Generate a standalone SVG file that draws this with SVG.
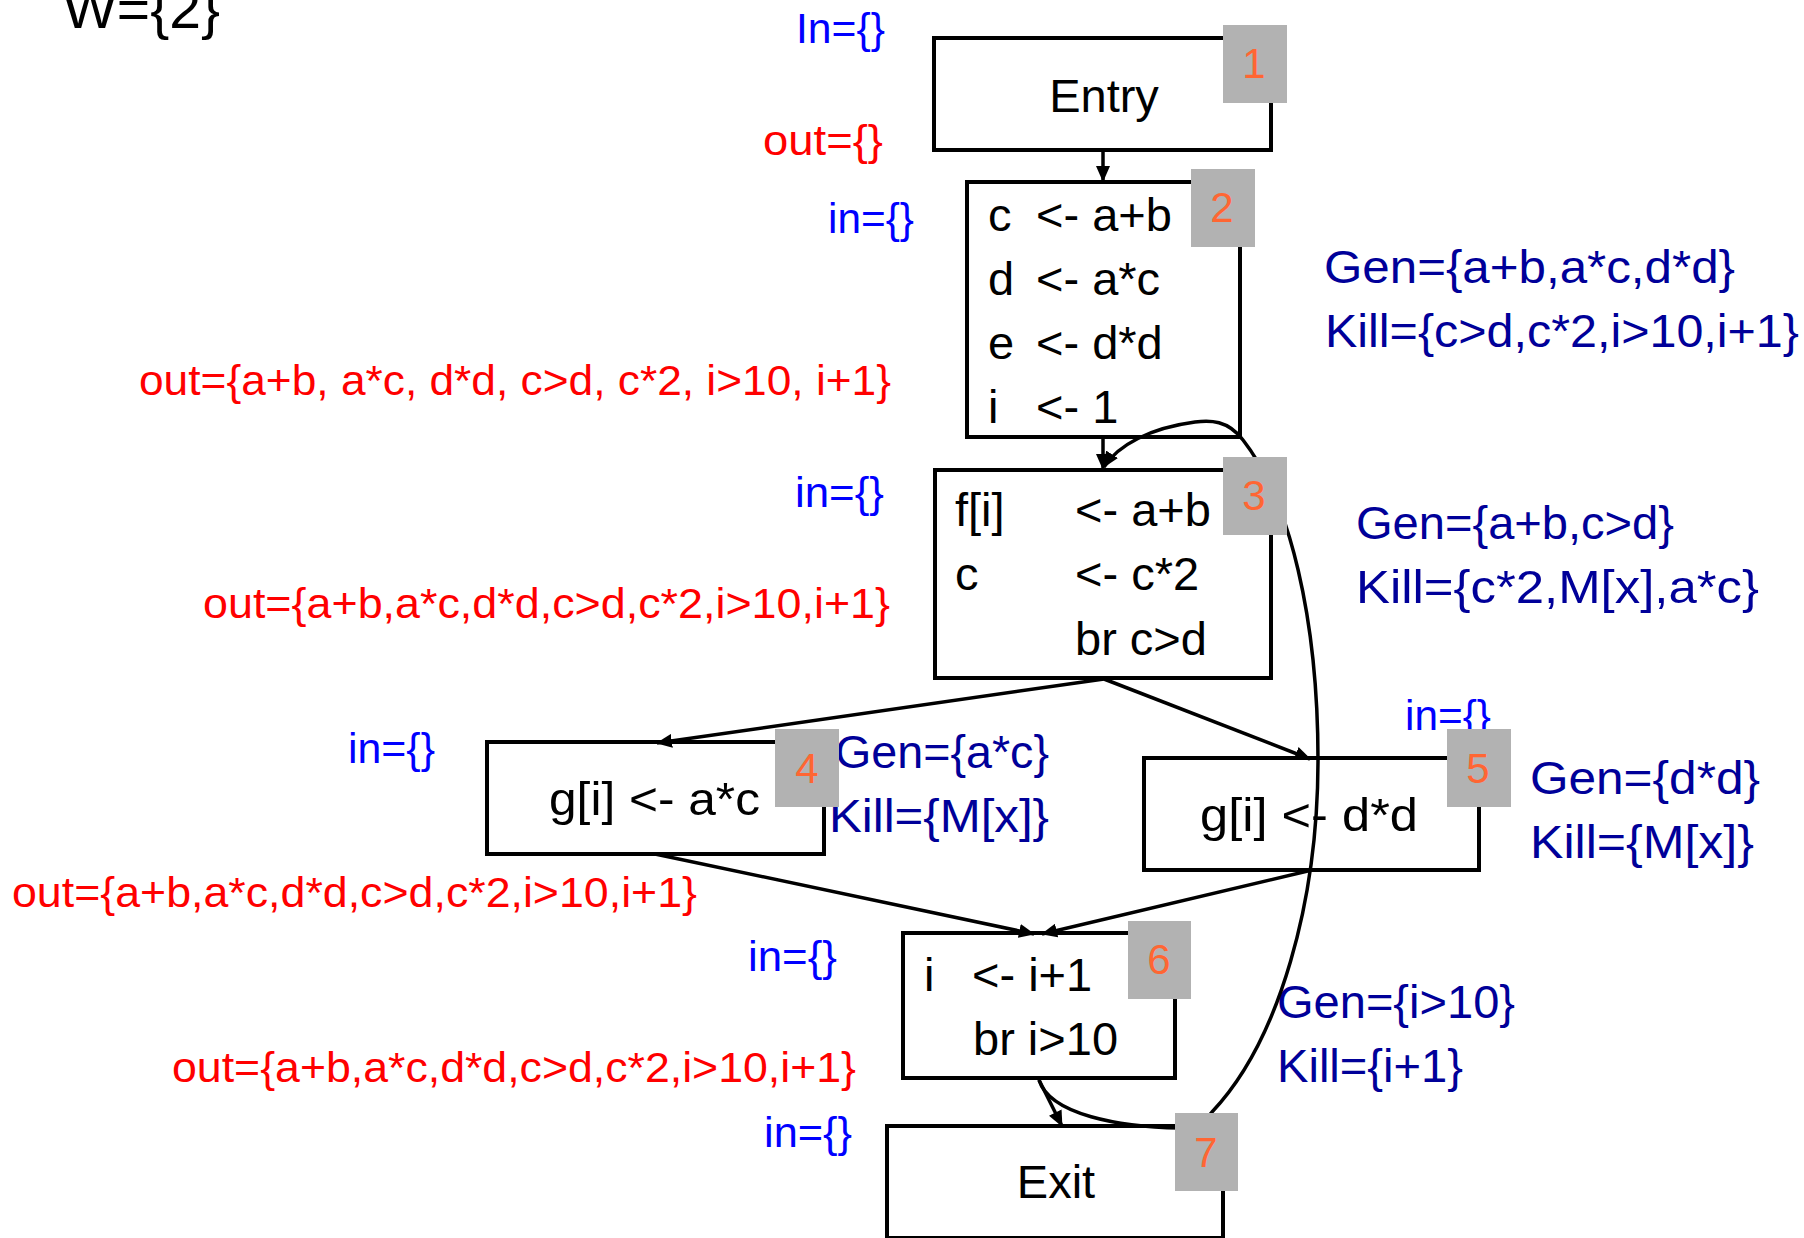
<svg xmlns="http://www.w3.org/2000/svg" width="1804" height="1238" viewBox="0 0 1804 1238">
<style>
text{font-family:"Liberation Sans","Noto Sans",sans-serif}
.node{fill:none;stroke:#000;stroke-width:4}
.code{font-size:47px;fill:#000}
.badge{fill:#b2b2b2}
.num{font-size:42px;fill:#ff6633;text-anchor:middle}
.in{font-size:42px;fill:#0000ff}
.out{font-size:42px;fill:#ff0000}
.gk{font-size:46px;fill:#000099}
.edge{fill:none;stroke:#000;stroke-width:3.5}
</style>
<defs>
<marker id="arr" markerUnits="userSpaceOnUse" markerWidth="16" markerHeight="14" refX="15" refY="7" orient="auto">
<path d="M0,0 L16,7 L0,14 z" fill="#000"/>
</marker>
</defs>
<rect width="1804" height="1238" fill="#fff"/>

<g id="labels">
<text x="63" y="28" style="font-size:56px" fill="#000" textLength="157" lengthAdjust="spacingAndGlyphs">W={2}</text>
<text class="in" x="796" y="43" textLength="89" lengthAdjust="spacingAndGlyphs">In={}</text>
<text class="out" x="763" y="155" textLength="120" lengthAdjust="spacingAndGlyphs">out={}</text>
<text class="in" x="828" y="233" textLength="86" lengthAdjust="spacingAndGlyphs">in={}</text>
<text class="out" x="139" y="395" textLength="752" lengthAdjust="spacingAndGlyphs">out={a+b, a*c, d*d, c&gt;d, c*2, i&gt;10, i+1}</text>
<text class="in" x="795" y="507" textLength="89" lengthAdjust="spacingAndGlyphs">in={}</text>
<text class="out" x="203" y="618" textLength="687" lengthAdjust="spacingAndGlyphs">out={a+b,a*c,d*d,c&gt;d,c*2,i&gt;10,i+1}</text>
<text class="in" x="348" y="763" textLength="87" lengthAdjust="spacingAndGlyphs">in={}</text>
<text class="out" x="12" y="907" textLength="685" lengthAdjust="spacingAndGlyphs">out={a+b,a*c,d*d,c&gt;d,c*2,i&gt;10,i+1}</text>
<text class="in" x="1405" y="730" textLength="86" lengthAdjust="spacingAndGlyphs">in={}</text>
<text class="in" x="748" y="971" textLength="89" lengthAdjust="spacingAndGlyphs">in={}</text>
<text class="out" x="172" y="1082" textLength="684" lengthAdjust="spacingAndGlyphs">out={a+b,a*c,d*d,c&gt;d,c*2,i&gt;10,i+1}</text>
<text class="in" x="764" y="1147" textLength="88" lengthAdjust="spacingAndGlyphs">in={}</text>

<text class="gk" x="1324" y="283" textLength="411" lengthAdjust="spacingAndGlyphs">Gen={a+b,a*c,d*d}</text>
<text class="gk" x="1325" y="347" textLength="474" lengthAdjust="spacingAndGlyphs">Kill={c&gt;d,c*2,i&gt;10,i+1}</text>
<text class="gk" x="1356" y="539" textLength="318" lengthAdjust="spacingAndGlyphs">Gen={a+b,c&gt;d}</text>
<text class="gk" x="1356" y="603" textLength="403" lengthAdjust="spacingAndGlyphs">Kill={c*2,M[x],a*c}</text>
<text class="gk" x="835" y="768" textLength="214" lengthAdjust="spacingAndGlyphs">Gen={a*c}</text>
<text class="gk" x="829" y="832" textLength="220" lengthAdjust="spacingAndGlyphs">Kill={M[x]}</text>
<text class="gk" x="1530" y="794" textLength="230" lengthAdjust="spacingAndGlyphs">Gen={d*d}</text>
<text class="gk" x="1530" y="858" textLength="224" lengthAdjust="spacingAndGlyphs">Kill={M[x]}</text>
<text class="gk" x="1277" y="1018" textLength="238" lengthAdjust="spacingAndGlyphs">Gen={i&gt;10}</text>
<text class="gk" x="1277" y="1082" textLength="186" lengthAdjust="spacingAndGlyphs">Kill={i+1}</text>
</g>

<g id="connectors">
<line class="edge" x1="1103" y1="150" x2="1103" y2="181" marker-end="url(#arr)"/>
<line class="edge" x1="1103" y1="437" x2="1103" y2="469" marker-end="url(#arr)"/>
<line class="edge" x1="1104" y1="679" x2="657" y2="743" marker-end="url(#arr)"/>
<line class="edge" x1="1104" y1="679" x2="1310" y2="759" marker-end="url(#arr)"/>
<line class="edge" x1="655" y1="854" x2="1034" y2="934" marker-end="url(#arr)"/>
<line class="edge" x1="1312" y1="870" x2="1042" y2="934" marker-end="url(#arr)"/>
<line class="edge" x1="1039" y1="1080" x2="1062" y2="1126" marker-end="url(#arr)"/>
<path class="edge" d="M1039,1080 C1050,1115 1120,1127 1180,1128 Q1200,1128 1212,1112 C1280,1040 1318,900 1318,760 C1318,620 1290,500 1243,440 C1228,420 1210,420 1195,422 C1150,428 1118,445 1104,467" marker-end="url(#arr)"/>
</g>

<g id="n1">
<rect class="node" x="934" y="38" width="337" height="112"/>
<text class="code" x="1104" y="112" text-anchor="middle">Entry</text>
<rect class="badge" x="1223" y="25" width="64" height="78"/>
<text class="num" x="1254" y="78">1</text>
</g>

<g id="n2">
<rect class="node" x="967" y="182" width="273" height="255"/>
<text class="code" x="988" y="231">c</text><text class="code" x="1036" y="231">&lt;- a+b</text>
<text class="code" x="988" y="295">d</text><text class="code" x="1036" y="295">&lt;- a*c</text>
<text class="code" x="988" y="359">e</text><text class="code" x="1036" y="359">&lt;- d*d</text>
<text class="code" x="988" y="423">i</text><text class="code" x="1036" y="423">&lt;- 1</text>
<rect class="badge" x="1191" y="169" width="64" height="78"/>
<text class="num" x="1222" y="222">2</text>
</g>

<g id="n3">
<rect class="node" x="935" y="470" width="336" height="208"/>
<text class="code" x="955" y="526">f[i]</text><text class="code" x="1075" y="526">&lt;- a+b</text>
<text class="code" x="955" y="590">c</text><text class="code" x="1075" y="590">&lt;- c*2</text>
<text class="code" x="1075" y="655">br c&gt;d</text>
<rect class="badge" x="1223" y="457" width="64" height="78"/>
<text class="num" x="1254" y="510">3</text>
</g>

<g id="n4">
<rect class="node" x="487" y="742" width="337" height="112"/>
<text class="code" x="549" y="815" textLength="211" lengthAdjust="spacingAndGlyphs">g[i] &lt;- a*c</text>
<rect class="badge" x="775" y="729" width="64" height="78"/>
<text class="num" x="807" y="783">4</text>
</g>

<g id="n5">
<rect class="node" x="1144" y="758" width="335" height="112"/>
<text class="code" x="1200" y="831" textLength="218" lengthAdjust="spacingAndGlyphs">g[i] &lt;- d*d</text>
<rect class="badge" x="1447" y="729" width="64" height="78"/>
<text class="num" x="1478" y="783">5</text>
</g>

<g id="n6">
<rect class="node" x="903" y="933" width="272" height="145"/>
<text class="code" x="924" y="991">i</text><text class="code" x="972" y="991">&lt;- i+1</text>
<text class="code" x="973" y="1055">br i&gt;10</text>
<rect class="badge" x="1128" y="921" width="63" height="78"/>
<text class="num" x="1159" y="974">6</text>
</g>

<g id="n7">
<rect class="node" x="887" y="1126" width="336" height="112"/>
<text class="code" x="1056" y="1198" text-anchor="middle">Exit</text>
<rect class="badge" x="1175" y="1113" width="63" height="78"/>
<text class="num" x="1206" y="1167">7</text>
</g>
</svg>
